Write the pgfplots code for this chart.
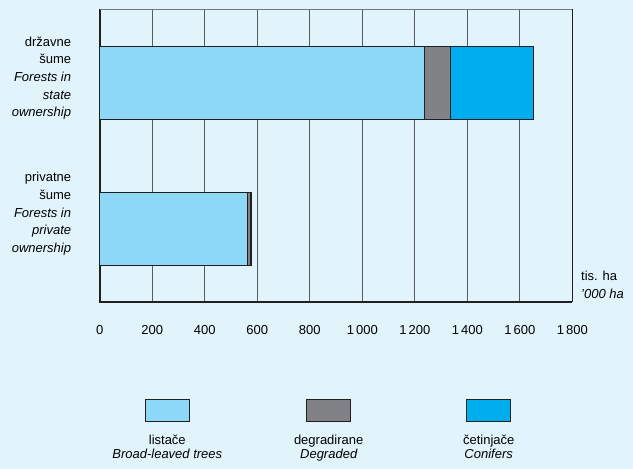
\documentclass[border=0pt]{standalone}
\usepackage{pgfplots}
\pgfplotsset{compat=1.18}
\usepackage{fontspec}
\setmainfont{Liberation Sans}
\definecolor{bg}{HTML}{E1F3FB}
\definecolor{broad}{HTML}{8DD7F7}
\definecolor{degr}{HTML}{808285}
\definecolor{conif}{HTML}{00AEEF}
\definecolor{edge}{HTML}{231F20}
\definecolor{gridc}{HTML}{5A5B5E}
\definecolor{topc}{HTML}{76777A}
\begin{document}
\begin{tikzpicture}
\fill[bg] (0pt,0pt) rectangle (633pt,469pt);
\begin{axis}[
  at={(99.8pt,167.3pt)}, anchor=south west,
  scale only axis, width=472.5pt, height=292.2pt,
  xbar stacked, bar width=0.5,
  xmin=0, xmax=1800, ymin=-0.5, ymax=1.5,
  xtick={0,200,...,1800},
  ytick={0.102,1.031},
  yticklabels={{privatne\\šume\\\textit{Forests in}\\\textit{private}\\\textit{ownership}},
               {državne\\šume\\\textit{Forests in}\\\textit{state}\\\textit{ownership}}},
  major tick length=0pt,
  xmajorgrids,
  grid style={draw=gridc, line width=0.9pt},
  axis line style={draw=none},
  /pgf/number format/assume math mode=true,
  /pgf/number format/1000 sep={\,},
  xticklabel style={font=\fontsize{13}{15}\selectfont, inner sep=0pt, anchor=north, yshift=-23.3pt},
  yticklabel style={font=\fontsize{13}{17.7}\selectfont, align=right, inner sep=0pt, anchor=east, xshift=-28.5pt},
  clip=false,
]
\addplot[fill=broad, draw=edge, line width=0.7pt] coordinates {(1237,1) (562,0)};
\addplot[fill=degr, draw=edge, line width=0.7pt] coordinates {(99,1) (11,0)};
\addplot[fill=conif, draw=edge, line width=0.7pt] coordinates {(315,1) (4,0)};
\draw[topc, line width=1.3pt] (rel axis cs:0,1) -- (rel axis cs:1,1);
\draw[edge, line width=0.9pt] (rel axis cs:1,0) -- (rel axis cs:1,1);
\draw[edge, line width=1.7pt] (rel axis cs:0,0) -- (rel axis cs:1,0);
\draw[edge, line width=2pt] (rel axis cs:0,-0.003) -- (rel axis cs:0,1.003);
\node[anchor=base west, inner sep=0pt, font=\fontsize{13}{15}\selectfont, xshift=8.7pt, yshift=21pt] at (rel axis cs:1,0) {tis. ha};
\node[anchor=base west, inner sep=0pt, font=\fontsize{13}{15}\selectfont\itshape, xshift=8.7pt, yshift=3.4pt] at (rel axis cs:1,0) {'000 ha};
\end{axis}
% legend
\filldraw[fill=broad, draw=edge, line width=0.6pt] (145.3pt,47.3pt) rectangle (189.3pt,70pt);
\filldraw[fill=degr, draw=edge, line width=0.6pt] (306.7pt,47.3pt) rectangle (350.7pt,70pt);
\filldraw[fill=conif, draw=edge, line width=0.6pt] (466.7pt,47.3pt) rectangle (510.7pt,70pt);
\begin{scope}[every node/.style={anchor=base, inner sep=0pt, font=\fontsize{13}{15}\selectfont}]
\node at (167.3pt,24pt) {listače};
\node[font=\fontsize{13}{15}\selectfont\itshape] at (167.3pt,10pt) {Broad-leaved trees};
\node at (328.7pt,24pt) {degradirane};
\node[font=\fontsize{13}{15}\selectfont\itshape] at (328.7pt,10pt) {Degraded};
\node at (488.7pt,24pt) {četinjače};
\node[font=\fontsize{13}{15}\selectfont\itshape] at (488.7pt,10pt) {Conifers};
\end{scope}
\end{tikzpicture}
\end{document}
